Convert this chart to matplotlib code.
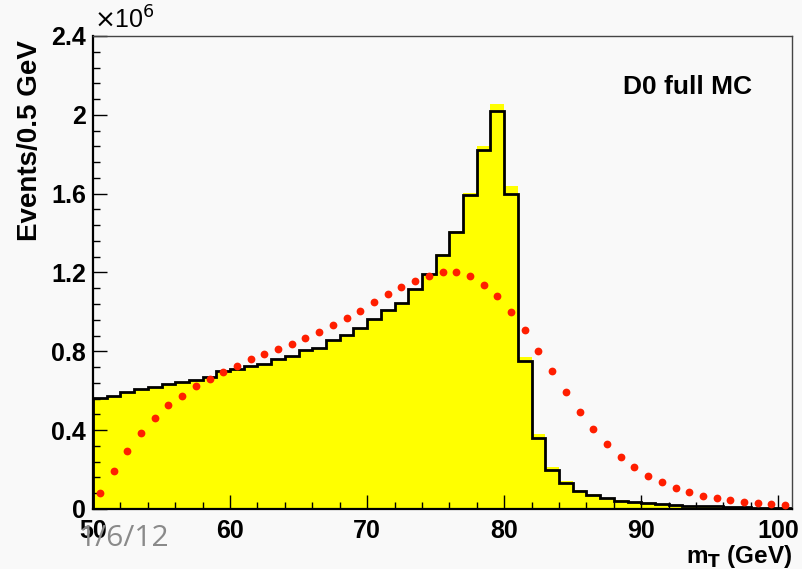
import numpy as np
import matplotlib
matplotlib.use("Agg")
import matplotlib.pyplot as plt
from matplotlib.ticker import MultipleLocator, FuncFormatter

# bin edges (GeV)
edges = np.arange(50, 102, 1)

# full MC histogram (black outline), units of 1e6 events
mc_line = [0.562, 0.574, 0.596, 0.609, 0.621, 0.633, 0.645, 0.657, 0.672, 0.700,
           0.709, 0.724, 0.734, 0.763, 0.777, 0.807, 0.819, 0.858, 0.882, 0.917,
           0.964, 1.010, 1.047, 1.117, 1.193, 1.289, 1.408, 1.594, 1.822, 2.017,
           1.597, 0.750, 0.359, 0.200, 0.130, 0.091, 0.071, 0.054, 0.042, 0.034,
           0.030, 0.024, 0.020, 0.017, 0.015, 0.013, 0.012, 0.010, 0.007, 0.005,
           0.004]

# yellow filled histogram, units of 1e6 events
mc_fill = [0.560, 0.572, 0.594, 0.607, 0.619, 0.631, 0.643, 0.655, 0.670, 0.698,
           0.707, 0.722, 0.732, 0.761, 0.775, 0.805, 0.817, 0.856, 0.880, 0.915,
           0.962, 1.008, 1.045, 1.115, 1.193, 1.292, 1.412, 1.604, 1.840, 2.055,
           1.640, 0.773, 0.380, 0.215, 0.140, 0.098, 0.075, 0.057, 0.044, 0.035,
           0.030, 0.024, 0.020, 0.017, 0.015, 0.013, 0.012, 0.010, 0.007, 0.005,
           0.004]

# red dotted curve (bin centres), units of 1e6 events
dot_x = np.arange(50.5, 101, 1.0)
dot_y = [0.080, 0.193, 0.296, 0.387, 0.464, 0.528, 0.575, 0.623, 0.660, 0.694,
         0.728, 0.761, 0.787, 0.814, 0.838, 0.866, 0.900, 0.934, 0.968, 1.007,
         1.049, 1.090, 1.125, 1.159, 1.183, 1.201, 1.201, 1.183, 1.139, 1.081,
         0.998, 0.909, 0.804, 0.699, 0.592, 0.494, 0.408, 0.330, 0.266, 0.215,
         0.169, 0.135, 0.105, 0.085, 0.068, 0.056, 0.044, 0.037, 0.032, 0.027,
         0.022]

BG = "#f9f9f9"
fig = plt.figure(figsize=(8.02, 5.69), dpi=100, facecolor=BG)
ax = fig.add_axes([93/802, 1-509/569, (792-93)/802, (509-36)/569])
ax.set_facecolor(BG)

ax.stairs(np.array(mc_fill), edges, fill=True, color="#ffff00", zorder=1)
ax.stairs(np.array(mc_line), edges, fill=False, color="black", lw=2.0, zorder=2)
ax.plot(dot_x, dot_y, ls="none", marker="o", ms=5.6, color="#ff1e00",
        mec="none", zorder=3)

ax.set_xlim(50, 101)
ax.set_ylim(0, 2.4)

ax.xaxis.set_major_locator(MultipleLocator(10))
ax.xaxis.set_minor_locator(MultipleLocator(2))
ax.yaxis.set_major_locator(MultipleLocator(0.4))
ax.yaxis.set_minor_locator(MultipleLocator(0.08))
ax.yaxis.set_major_formatter(FuncFormatter(lambda v, p: f"{v:g}"))

ax.tick_params(which="both", direction="in", top=False, right=False, color="black")
ax.tick_params(which="major", length=10, width=1.0)
ax.tick_params(which="minor", length=5, width=1.0)
ax.tick_params(axis="x", which="major", pad=7)
ax.tick_params(axis="y", which="major", pad=5)
for lab in ax.get_xticklabels() + ax.get_yticklabels():
    lab.set_fontfamily("Liberation Sans")
    lab.set_fontweight("bold")
    lab.set_fontsize(18)

for side in ["left", "bottom"]:
    ax.spines[side].set_linewidth(1.6)
for side in ["top", "right"]:
    ax.spines[side].set_linewidth(1.0)
    ax.spines[side].set_color("#444444")

fnt = dict(family="Liberation Sans", weight="bold")
fig.text(30/802, 1-40/569, "Events/0.5 GeV", rotation=90, ha="center", va="top",
         fontsize=20, **fnt)
fig.text(792/802, 1-563/569, r"m$_\mathbf{T}$ (GeV)", ha="right", va="baseline",
         fontsize=17.5, **fnt)
fig.text(94/802, 1-34/569, r"$\times$10$^{6}$", ha="left", va="bottom",
         fontsize=18, family="Liberation Sans")
ax.text((752-93)/699, (509-87)/473, "D0 full MC", transform=ax.transAxes,
        ha="right", va="center", fontsize=19, **fnt)
fig.text(78/802, 1-546/569, "1/6/12", ha="left", va="baseline", fontsize=21.5,
         color="#8a8a8a", family="Open Sans")

fig.savefig("out.png", dpi=100, facecolor=BG)
